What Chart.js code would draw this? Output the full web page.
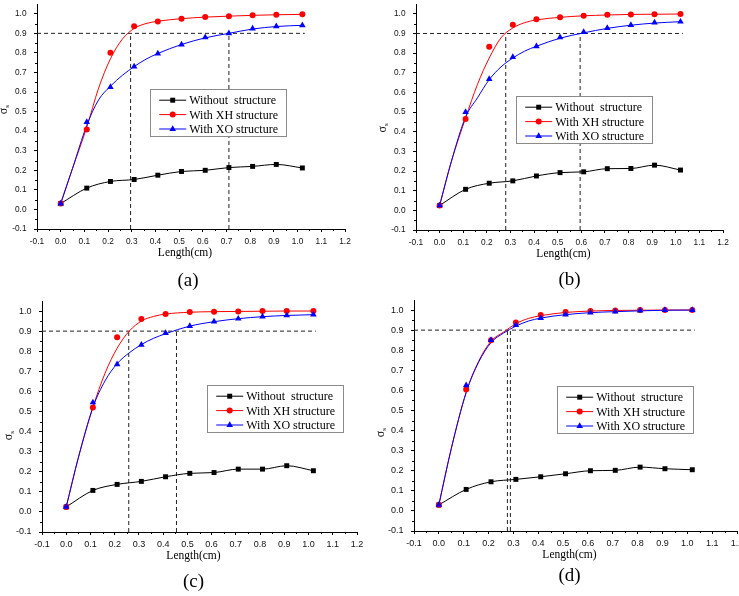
<!DOCTYPE html>
<html>
<head>
<meta charset="utf-8">
<script src="https://cdn.jsdelivr.net/npm/chart.js@4.4.1/dist/chart.umd.min.js"></script>
<style>
  html, body { margin: 0; padding: 0; background: #fff; overflow: hidden; }
  body { width: 739px; height: 596px; position: relative; }
  canvas { position: absolute; }
</style>
</head>
<body>
<canvas id="pa" width="370" height="296" style="left:0px;top:0px"></canvas>
<canvas id="pb" width="369" height="297" style="left:379px;top:0px"></canvas>
<canvas id="pc" width="377" height="302" style="left:5px;top:297px"></canvas>
<canvas id="pd" width="385" height="302" style="left:377px;top:296px"></canvas>
<script>
// measured lengths (cm)
const lengthX = [0, 0.11, 0.21, 0.31, 0.41, 0.51, 0.61, 0.71, 0.81, 0.91, 1.02];
const fitX = [0, 0.05, 0.11, 0.16, 0.21, 0.26, 0.31, 0.36, 0.41, 0.51, 0.61, 0.71, 0.81, 0.91, 1.02];

const xTicks = [-0.1, 0.0, 0.1, 0.2, 0.3, 0.4, 0.5, 0.6, 0.7, 0.8, 0.9, 1.0, 1.1, 1.2];
const yTicks = [-0.1, 0.0, 0.1, 0.2, 0.3, 0.4, 0.5, 0.6, 0.7, 0.8, 0.9, 1.0];
const seriesNames = ['Without  structure', 'With XH structure', 'With XO structure'];
const xTitle = 'Length(cm)';

// (a)
const noStructA = [0.03, 0.109, 0.143, 0.153, 0.175, 0.194, 0.2, 0.214, 0.22, 0.23, 0.212];
const xhA = [0.03, 0.408, 0.801, 0.936, 0.96, 0.975, 0.983, 0.988, 0.992, 0.995, 0.997];
const xoA = [0.03, 0.447, 0.625, 0.73, 0.797, 0.843, 0.88, 0.9, 0.924, 0.936, 0.941];
const xhFitA = [0.03, 0.21, 0.42, 0.62, 0.77, 0.87, 0.925, 0.95, 0.962, 0.975, 0.983, 0.988, 0.992, 0.995, 0.997];
const xoFitA = [0.03, 0.21, 0.43, 0.56, 0.63, 0.685, 0.73, 0.768, 0.797, 0.843, 0.877, 0.9, 0.922, 0.935, 0.941];
const crossA = [0.295, 0.71];

// (b)
const noStructB = [0.025, 0.107, 0.138, 0.15, 0.175, 0.192, 0.196, 0.212, 0.213, 0.23, 0.205];
const xhB = [0.025, 0.465, 0.832, 0.945, 0.972, 0.983, 0.99, 0.995, 0.997, 0.998, 0.999];
const xoB = [0.025, 0.50, 0.668, 0.78, 0.835, 0.88, 0.907, 0.928, 0.943, 0.955, 0.96];
const xhFitB = [0.025, 0.25, 0.47, 0.64, 0.775, 0.878, 0.928, 0.955, 0.969, 0.982, 0.99, 0.994, 0.997, 0.998, 0.999];
const xoFitB = [0.025, 0.25, 0.475, 0.572, 0.665, 0.73, 0.775, 0.81, 0.835, 0.876, 0.903, 0.926, 0.942, 0.953, 0.96];
const crossB = [0.28, 0.595];

// (c)
const noStructC = [0.025, 0.107, 0.137, 0.152, 0.175, 0.192, 0.196, 0.213, 0.213, 0.23, 0.205];
const xhC = [0.025, 0.52, 0.87, 0.96, 0.985, 0.995, 0.997, 0.998, 1.0, 1.0, 1.0];
const xoC = [0.025, 0.545, 0.735, 0.832, 0.89, 0.925, 0.948, 0.962, 0.972, 0.978, 0.982];
const xhFitC = [0.025, 0.27, 0.52, 0.69, 0.815, 0.9, 0.95, 0.973, 0.985, 0.994, 0.997, 0.998, 0.999, 1.0, 1.0];
const xoFitC = [0.025, 0.27, 0.52, 0.652, 0.738, 0.792, 0.833, 0.864, 0.887, 0.925, 0.947, 0.962, 0.972, 0.978, 0.982];
const crossC = [0.258, 0.455];

// (d)
const noStructD = [0.03, 0.107, 0.145, 0.157, 0.17, 0.185, 0.2, 0.202, 0.218, 0.21, 0.205];
const xhD = [0.03, 0.605, 0.85, 0.938, 0.975, 0.99, 0.995, 0.998, 1.0, 1.0, 1.0];
const xoD = [0.03, 0.625, 0.85, 0.925, 0.96, 0.977, 0.987, 0.992, 0.997, 1.0, 1.0];
const xhFitD = [0.03, 0.31, 0.59, 0.745, 0.845, 0.89, 0.932, 0.958, 0.972, 0.988, 0.995, 0.998, 0.999, 1.0, 1.0];
const xoFitD = [0.03, 0.31, 0.59, 0.74, 0.838, 0.885, 0.92, 0.945, 0.96, 0.977, 0.987, 0.992, 0.996, 0.999, 1.0];
const crossD = [0.276, 0.288];

const hLineY = 0.9;
const hLineEnd = 1.03;

const BLACK = '#000000', RED = '#ff0000', BLUE = '#0000ff', DASH = '#222222';
const seriesStyle = [
  { color: BLACK, point: 'rect', r: 3.5 },
  { color: RED, point: 'circle', r: 3 },
  { color: BLUE, point: 'triangle', r: 3.8 }
];

const panels = [
  { id: 'pa', tag: '(a)', none: noStructA, xh: xhA, xo: xoA, xhFit: xhFitA, xoFit: xoFitA, cross: crossA,
    legend: { dx: 113, dy: 85.3 }, yTitleAt: 0.51, labelDy: 52, labelDx: -3, tickSize: 8.3 },
  { id: 'pb', tag: '(b)', none: noStructB, xh: xhB, xo: xoB, xhFit: xhFitB, xoFit: xoFitB, cross: crossB,
    legend: { dx: 99.7, dy: 92 }, yTitleAt: 0.42, labelDy: 50, labelDx: 0, tickSize: 8.3 },
  { id: 'pc', tag: '(c)', none: noStructC, xh: xhC, xo: xoC, xhFit: xhFitC, xoFit: xoFitC, cross: crossC,
    legend: { dx: 164.7, dy: 84.3 }, yTitleAt: 0.38, labelDy: 50, labelDx: -6, tickSize: 9 },
  { id: 'pd', tag: '(d)', none: noStructD, xh: xhD, xo: xoD, xhFit: xhFitD, xoFit: xoFitD, cross: crossD,
    legend: { dx: 142.7, dy: 85.7 }, yTitleAt: 0.39, labelDy: 45, labelDx: -6, tickSize: 9 }
];

const xMinor = xTicks.slice(0, -1).map((v, i) => (v + xTicks[i + 1]) / 2);
const yMinor = yTicks.slice(0, -1).map((v, i) => (v + yTicks[i + 1]) / 2);

function pts(xs, ys) { return xs.map((x, i) => ({ x: x, y: ys[i] })); }

function markerSet(xs, ys, st) {
  return { data: pts(xs, ys), showLine: false, pointStyle: st.point, pointRadius: st.r,
    pointBackgroundColor: st.color, pointBorderWidth: 0, borderColor: st.color };
}
function curve(xs, ys, color) {
  return { data: pts(xs, ys), borderColor: color, borderWidth: 1, pointRadius: 0,
    cubicInterpolationMode: 'monotone', fill: false };
}
function dashed(data) {
  return { data: data, borderColor: DASH, borderWidth: 1, borderDash: [4, 3], pointRadius: 0, tension: 0, fill: false };
}

function drawMarker(ctx, st, x, y) {
  ctx.fillStyle = st.color;
  ctx.beginPath();
  if (st.point === 'rect') {
    const s = st.r / Math.SQRT2;
    ctx.rect(x - s, y - s, 2 * s, 2 * s);
  } else if (st.point === 'circle') {
    ctx.arc(x, y, st.r, 0, Math.PI * 2);
  } else {
    const h = st.r * 1.5, w = st.r * Math.sqrt(3) / 2;
    ctx.moveTo(x, y - st.r);
    ctx.lineTo(x + w, y - st.r + h);
    ctx.lineTo(x - w, y - st.r + h);
    ctx.closePath();
  }
  ctx.fill();
}

const decor = {
  id: 'decor',
  afterDraw(chart) {
    const p = chart.options.plugins.decor;
    const ctx = chart.ctx, a = chart.chartArea;
    const xs = chart.scales.x, ys = chart.scales.y;
    ctx.save();
    // minor ticks
    ctx.strokeStyle = '#000';
    ctx.lineWidth = 1;
    xMinor.forEach(v => {
      const px = Math.round(xs.getPixelForValue(v)) + 0.5;
      ctx.beginPath(); ctx.moveTo(px, a.bottom); ctx.lineTo(px, a.bottom + 2); ctx.stroke();
    });
    yMinor.forEach(v => {
      const py = Math.round(ys.getPixelForValue(v)) + 0.5;
      ctx.beginPath(); ctx.moveTo(a.left, py); ctx.lineTo(a.left - 2, py); ctx.stroke();
    });

    const mid = (a.left + a.right) / 2;
    ctx.fillStyle = '#000';
    ctx.textAlign = 'center';
    ctx.textBaseline = 'middle';
    ctx.font = '11.5px "Liberation Serif"';
    ctx.fillText(xTitle, mid - 6, a.bottom + 24);
    ctx.font = '19px "Liberation Serif"';
    ctx.fillText(p.tag, mid + p.labelDx, a.bottom + p.labelDy);

    // y title: sigma with subscript s
    ctx.save();
    ctx.translate(a.left - 34, ys.getPixelForValue(p.yTitleAt));
    ctx.rotate(-Math.PI / 2);
    ctx.textAlign = 'left';
    ctx.textBaseline = 'alphabetic';
    ctx.font = '12px "Liberation Serif"';
    const w1 = ctx.measureText('σ').width;
    ctx.font = '7px "Liberation Serif"';
    const w2 = ctx.measureText('s').width;
    const sx = -(w1 + w2) / 2;
    ctx.font = '12px "Liberation Serif"';
    ctx.fillText('σ', sx, 4);
    ctx.font = '7px "Liberation Serif"';
    ctx.fillText('s', sx + w1, 6);
    ctx.restore();

    // legend
    ctx.font = '12px "Liberation Serif"';
    const tw = Math.max(...seriesNames.map(s => ctx.measureText(s).width));
    const x0 = Math.round(a.left + p.legend.dx) + 0.5, y0 = Math.round(a.top + p.legend.dy) + 0.5;
    const w = Math.round(38.7 + tw + 8), h = 47;
    ctx.fillStyle = '#fff';
    ctx.fillRect(x0, y0, w, h);
    ctx.strokeStyle = '#8a8a8a';
    ctx.strokeRect(x0, y0, w, h);
    seriesNames.forEach((name, i) => {
      const st = seriesStyle[i];
      const yy = y0 + 10.7 + i * 14.4;
      ctx.strokeStyle = st.color;
      ctx.beginPath(); ctx.moveTo(x0 + 8.7, yy); ctx.lineTo(x0 + 35.7, yy); ctx.stroke();
      drawMarker(ctx, st, x0 + 22.2, yy);
      ctx.fillStyle = '#000';
      ctx.textAlign = 'left';
      ctx.textBaseline = 'alphabetic';
      ctx.fillText(name, x0 + 38.7, yy + 4);
    });
    ctx.restore();
  }
};

panels.forEach(p => {
  const datasets = [
    markerSet(lengthX, p.xo, seriesStyle[2]),
    markerSet(lengthX, p.xh, seriesStyle[1]),
    Object.assign(curve(lengthX, p.none, BLACK),
      { pointStyle: 'rect', pointRadius: 3.5, pointBackgroundColor: BLACK, pointBorderWidth: 0 }),
    curve(fitX, p.xoFit, BLUE),
    curve(fitX, p.xhFit, RED),
    dashed([{ x: xTicks[0], y: hLineY }, { x: hLineEnd, y: hLineY }])
  ];
  p.cross.forEach(c => datasets.push(dashed([{ x: c, y: yTicks[0] }, { x: c, y: hLineY }])));

  new Chart(document.getElementById(p.id), {
    type: 'line',
    data: { datasets: datasets },
    plugins: [decor],
    options: {
      responsive: false,
      animation: false,
      devicePixelRatio: 1,
      events: [],
      layout: { padding: { left: 0, top: 2, right: 25, bottom: 0 } },
      plugins: {
        legend: { display: false },
        tooltip: { enabled: false },
        decor: p
      },
      scales: {
        x: {
          type: 'linear', min: xTicks[0], max: xTicks[xTicks.length - 1],
          afterBuildTicks: s => { s.ticks = xTicks.map(v => ({ value: v })); },
          afterFit: s => { s.height = 67; s.paddingLeft = 0; s.paddingRight = 0; },
          ticks: { autoSkip: false, maxRotation: 0, padding: 4.5, color: '#111',
            font: { family: 'Liberation Sans', size: p.tickSize }, callback: v => Number(v).toFixed(1) },
          grid: { drawOnChartArea: false, drawTicks: true, tickLength: 3, color: '#000', lineWidth: 1 },
          border: { display: true, color: '#000', width: 1 }
        },
        y: {
          type: 'linear', min: yTicks[0], max: 1.05,
          afterBuildTicks: s => { s.ticks = yTicks.map(v => ({ value: v })); },
          afterFit: s => { s.width = 37; s.paddingTop = 0; s.paddingBottom = 0; },
          ticks: { padding: 7.5, color: '#111',
            font: { family: 'Liberation Sans', size: p.tickSize }, callback: v => Number(v).toFixed(1) },
          grid: { drawOnChartArea: false, drawTicks: true, tickLength: 3, color: '#000', lineWidth: 1 },
          border: { display: true, color: '#000', width: 1 }
        }
      }
    }
  });
});
</script>
</body>
</html>
